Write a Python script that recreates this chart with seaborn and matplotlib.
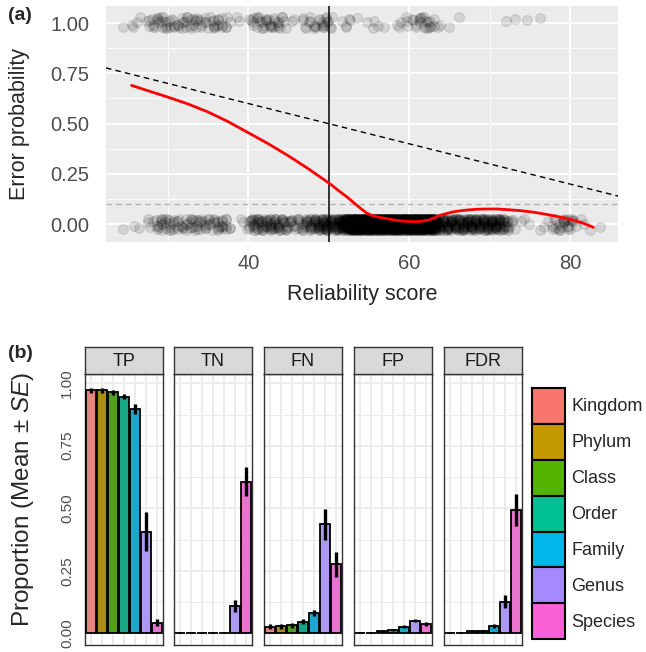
import numpy as np
import pandas as pd
import matplotlib
matplotlib.use("Agg")
import matplotlib.pyplot as plt
from matplotlib.patches import Patch
from matplotlib.ticker import MultipleLocator, FormatStrFormatter
import seaborn as sns

sns.set_theme(style="white")
plt.rcParams["font.family"] = ["Liberation Sans", "DejaVu Sans"]
plt.rcParams["mathtext.fontset"] = "custom"
plt.rcParams["mathtext.rm"] = "Liberation Sans"
plt.rcParams["mathtext.it"] = "Liberation Sans:italic"

# ---------------- data: panel (a) ----------------
# jittered points, error = 1 row: x position and number of overlapping points
top_x = [24.7, 25.3, 25.8, 26.2, 27.6, 28.0, 28.5, 29.0, 29.5, 30.0,
         30.6, 31.0, 31.5, 32.0, 32.5, 33.0, 33.5, 34.0, 34.5, 35.0,
         35.5, 36.0, 36.5, 37.0, 37.5, 38.3, 39.0, 39.8, 40.5, 41.0,
         41.5, 42.0, 42.5, 43.0, 43.5, 44.0, 44.5, 45.2, 45.8, 46.4,
         47.0, 47.5, 48.0, 48.5, 49.0, 49.5, 50.0, 50.6, 51.9, 52.3,
         52.8, 53.2, 54.9, 55.5, 56.0, 57.2, 58.2, 58.8, 59.4, 60.0,
         60.6, 61.0, 61.5, 62.0, 62.5, 63.0, 63.4, 64.2, 64.6, 66.3,
         71.9, 73.4, 74.9, 76.0]
top_n = [1, 1, 2, 1, 2, 3, 4, 4, 4, 3,
         3, 3, 4, 4, 3, 3, 4, 3, 3, 3,
         3, 4, 3, 3, 3, 1, 1, 1, 3, 4,
         4, 4, 4, 3, 4, 4, 3, 1, 1, 1,
         2, 3, 3, 3, 3, 4, 5, 1, 2, 2,
         1, 1, 1, 2, 1, 1, 1, 2, 1, 2,
         3, 3, 4, 4, 3, 3, 1, 1, 1, 1,
         1, 1, 1, 1]

# error = 0 row
bottom_x = [24.7, 25.5, 26.5, 27.2, 27.8, 28.5, 29.0, 29.5, 30.0, 30.5,
            31.0, 31.5, 32.0, 32.5, 33.0, 33.5, 34.0, 34.5, 35.0, 35.5,
            36.0, 36.5, 37.0, 37.5, 38.0, 38.8, 39.5, 40.0, 40.5, 41.0,
            41.5, 42.0, 42.5, 43.0, 43.5, 44.0, 44.5, 45.0, 45.5, 46.0,
            46.5, 47.0, 47.5, 48.0, 48.5, 49.0, 49.5, 50.0, 50.5, 51.0,
            51.5, 52.0, 52.5, 53.0, 53.5, 54.0, 54.5, 55.0, 55.5, 56.0,
            56.5, 57.0, 57.5, 58.0, 58.5, 59.0, 59.5, 60.0, 60.5, 61.0,
            61.5, 62.0, 62.5, 63.0, 63.5, 64.0, 64.5, 65.0, 65.5, 66.0,
            66.5, 67.0, 67.5, 68.0, 68.5, 69.0, 69.5, 70.0, 70.5, 71.0,
            71.5, 72.0, 72.5, 73.0, 73.7, 74.5, 75.2, 76.0, 76.8, 77.5,
            78.0, 78.5, 79.0, 79.5, 80.0, 80.5, 81.2, 82.0, 82.8, 83.5]
bottom_n = [1, 1, 1, 1, 2, 4, 5, 5, 4, 4,
            4, 5, 4, 4, 5, 4, 4, 5, 4, 4,
            4, 5, 5, 3, 1, 1, 1, 4, 7, 8,
            8, 8, 8, 8, 8, 8, 7, 5, 4, 4,
            5, 6, 8, 9, 10, 12, 13, 13, 11, 12,
            18, 26, 36, 50, 50, 50, 50, 50, 50, 50,
            50, 50, 50, 50, 50, 50, 50, 50, 50, 50,
            50, 50, 50, 50, 16, 13, 13, 13, 13, 13,
            13, 13, 13, 13, 13, 13, 13, 13, 13, 13,
            11, 8, 5, 2, 1, 1, 1, 1, 1, 2,
            3, 4, 5, 5, 5, 3, 1, 1, 1, 1]

# fixed jitter pattern used for overlapping points
jit_x = [-0.30, 0.25, -0.10, 0.35, -0.20, 0.05, 0.15, -0.35, 0.30, -0.05, 0.20, -0.25]
jit_y = [-0.022, 0.015, -0.008, 0.025, -0.018, 0.004, 0.028, -0.027, 0.010, -0.013, 0.020]

# loess curve
smooth_x = [25.5, 27.5, 30, 32.5, 35, 37.5, 40, 42.5, 45, 47.5, 50.2, 51.4,
            52.3, 53.1, 54.0, 54.75, 55.5, 56.4, 57.5, 58.5, 59.5, 60.5, 61.5,
            62.3, 63.0, 63.85, 64.7, 65.5, 66.5, 67.5, 68.5, 69.65, 71.0, 72.5,
            73.8, 75.5, 77.0, 78.5, 80.0, 81.5, 82.9]
smooth_y = [0.69, 0.664, 0.632, 0.598, 0.558, 0.51, 0.455, 0.40, 0.34, 0.275, 0.20, 0.162,
            0.135, 0.108, 0.078, 0.055, 0.042, 0.034, 0.026, 0.019, 0.015, 0.013, 0.015,
            0.02, 0.03, 0.045, 0.054, 0.062, 0.068, 0.072, 0.075, 0.076, 0.076, 0.072,
            0.068, 0.06, 0.05, 0.038, 0.025, 0.008, -0.015]

ref_intercept, ref_slope = 1.0, -0.01   # dashed line: 1 - score/100
cutoff_score = 50
cutoff_prob = 0.1

# ---------------- data: panel (b) ----------------
levels = ["Kingdom", "Phylum", "Class", "Order", "Family", "Genus", "Species"]
level_colors = ["#F8766D", "#C49A00", "#53B400", "#00C094", "#00B6EB", "#A58AFF", "#FB61D7"]
metrics = ["TP", "TN", "FN", "FP", "FDR"]
tp_mean = [0.973, 0.973, 0.964, 0.947, 0.897, 0.407, 0.043]
tp_se = [0.010, 0.010, 0.010, 0.010, 0.020, 0.078, 0.014]
tn_mean = [0.002, 0.002, 0.002, 0.002, 0.003, 0.109, 0.607]
tn_se = [0.002, 0.002, 0.002, 0.002, 0.003, 0.025, 0.058]
fn_mean = [0.027, 0.029, 0.033, 0.047, 0.080, 0.436, 0.277]
fn_se = [0.010, 0.010, 0.010, 0.010, 0.012, 0.062, 0.050]
fp_mean = [0.003, 0.003, 0.011, 0.013, 0.027, 0.051, 0.037]
fp_se = [0.002, 0.002, 0.004, 0.004, 0.006, 0.006, 0.008]
fdr_mean = [0.003, 0.003, 0.008, 0.010, 0.029, 0.127, 0.493]
fdr_se = [0.002, 0.002, 0.004, 0.004, 0.008, 0.025, 0.064]

# build point table
pts = []
for row_y, xs, ns in [(1, top_x, top_n), (0, bottom_x, bottom_n)]:
    for j, (x, n) in enumerate(zip(xs, ns)):
        for k in range(n):
            pts.append((x + jit_x[(k + j) % len(jit_x)],
                        row_y + jit_y[(k + 2 * j) % len(jit_y)]))
pts_df = pd.DataFrame(pts, columns=["score", "error"])
smooth_df = pd.DataFrame({"score": smooth_x, "prob": smooth_y})

bars = pd.DataFrame({
    "metric": np.repeat(metrics, len(levels)),
    "level": levels * len(metrics),
    "mean": tp_mean + tn_mean + fn_mean + fp_mean + fdr_mean,
    "se": tp_se + tn_se + fn_se + fp_se + fdr_se,
})

W, H = 646, 652
fig = plt.figure(figsize=(W / 100, H / 100), dpi=100)

def box(l, t, r, b):
    return [l / W, 1 - b / H, (r - l) / W, (b - t) / H]

grey_text = "#4D4D4D"

# ---------------- panel (a) ----------------
ax = fig.add_axes(box(106, 6, 618, 241.7))
ax.set_facecolor("#EBEBEB")
sns.scatterplot(data=pts_df, x="score", y="error", color="black", alpha=0.1,
                s=50, edgecolor="black", linewidth=0.8, ax=ax, zorder=3)
ax.axhline(cutoff_prob, color="#B3B3B3", lw=1.0, ls=(0, (4, 3)), zorder=2)
ax.axline((0, ref_intercept), slope=ref_slope, color="black", lw=1.0, ls=(0, (4, 3)), zorder=4)
ax.axvline(cutoff_score, color="black", lw=1.1, zorder=4)
sns.lineplot(data=smooth_df, x="score", y="prob", color="red", lw=2.0, ax=ax, zorder=5)
ax.set_xlim(22.32, 85.96)
ax.set_ylim(-0.0864, 1.0845)
ax.xaxis.set_major_locator(MultipleLocator(20))
ax.xaxis.set_minor_locator(MultipleLocator(10))
ax.yaxis.set_major_locator(MultipleLocator(0.25))
ax.yaxis.set_minor_locator(MultipleLocator(0.125))
ax.yaxis.set_major_formatter(FormatStrFormatter("%.2f"))
ax.grid(which="major", color="white", lw=1.3, zorder=0)
ax.grid(which="minor", color="white", lw=0.6, zorder=0)
ax.set_axisbelow(True)
for s in ax.spines.values():
    s.set_visible(False)
ax.tick_params(which="major", length=4, width=1.0, color="#333333",
               labelsize=14.5, labelcolor=grey_text, pad=5)
ax.tick_params(axis="y", which="major", pad=8)
ax.tick_params(which="minor", length=0)
ax.set_xlabel("")
ax.set_ylabel("")
fig.text(362 / W, 1 - 295 / H, "Reliability score", fontsize=15.5, ha="center", va="center")
fig.text(20 / W, 1 - 124 / H, "Error probability", fontsize=15.5, rotation=90,
         ha="center", va="center")
fig.text(8 / W, 1 - 15 / H, "(a)", fontsize=14, fontweight="bold", va="center", ha="left")

# ---------------- panel (b) ----------------
lefts = [85, 174, 264, 354, 444]
pw = 78
for i, (m, l) in enumerate(zip(metrics, lefts)):
    sub = bars[bars["metric"] == m]
    bx = fig.add_axes(box(l, 374, l + pw, 645))
    bx.set_facecolor("white")
    sns.barplot(data=sub, x="level", y="mean", hue="level", order=levels,
                hue_order=levels, palette=level_colors, legend=False, width=0.9,
                edgecolor="black", linewidth=1.3, ax=bx, zorder=3)
    bx.errorbar(np.arange(len(levels)), sub["mean"], yerr=sub["se"], fmt="none",
                ecolor="black", elinewidth=2.4, capsize=0, zorder=4)
    bx.set_xlim(-0.52, 6.52)
    bx.set_ylim(-0.047, 1.037)
    bx.yaxis.set_major_locator(MultipleLocator(0.25))
    bx.yaxis.set_minor_locator(MultipleLocator(0.125))
    bx.yaxis.set_major_formatter(FormatStrFormatter("%.2f"))
    bx.grid(which="major", color="#EBEBEB", lw=1.3, zorder=0)
    bx.grid(which="minor", axis="y", color="#EBEBEB", lw=0.7, zorder=0)
    bx.set_axisbelow(True)
    for s in bx.spines.values():
        s.set_color("#333333")
        s.set_linewidth(1.0)
    bx.set_xlabel("")
    bx.set_ylabel("")
    bx.tick_params(axis="x", length=0, labelbottom=False)
    bx.tick_params(axis="y", which="minor", length=0)
    if i == 0:
        bx.tick_params(axis="y", which="major", length=4, width=1.0, color="#333333",
                       labelsize=11, labelcolor=grey_text, pad=4)
        for t in bx.get_yticklabels():
            t.set_rotation(90)
            t.set_va("center")
    else:
        bx.tick_params(axis="y", which="major", length=0, labelleft=False)

    sx = fig.add_axes(box(l, 347, l + pw, 374))
    sx.set_facecolor("#D9D9D9")
    sx.set_xticks([])
    sx.set_yticks([])
    for s in sx.spines.values():
        s.set_color("#333333")
        s.set_linewidth(1.0)
    sx.text(0.5, 0.48, m, transform=sx.transAxes, ha="center", va="center",
            fontsize=13, color="#1A1A1A")

fig.text(23 / W, 1 - 500 / H, r"Proportion (Mean ± $\mathit{SE}$)", rotation=90,
         fontsize=17.5, ha="center", va="center")
fig.text(8 / W, 1 - 353 / H, "(b)", fontsize=14, fontweight="bold", va="center", ha="left")

handles = [Patch(facecolor=c, edgecolor="black", linewidth=1.5) for c in level_colors]
fig.legend(handles, levels, loc="upper left", bbox_to_anchor=(531.7 / W, 1 - 388 / H),
           frameon=False, fontsize=13, handlelength=1.83, handleheight=2.68,
           labelspacing=0.0, handletextpad=0.35, borderpad=0, borderaxespad=0)

fig.savefig("out.png", dpi=100)
